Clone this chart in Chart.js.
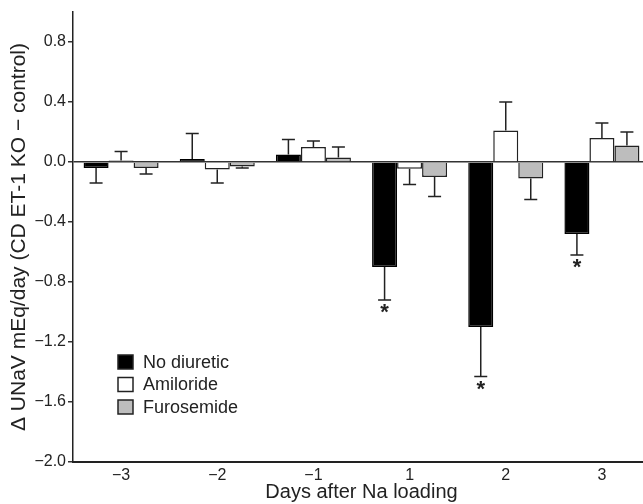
<!DOCTYPE html>
<html>
<head>
<meta charset="utf-8">
<script src="https://cdn.jsdelivr.net/npm/chart.js@4"></script>
<style>
body { margin: 0; overflow: hidden; background: #fff; }
</style>
</head>
<body>
<canvas id="chartBox" width="650" height="504"></canvas>
<script>
const days = ['\u22123', '\u22122', '\u22121', '1', '2', '3']
const noDiuretic = [-0.04, 0.02, 0.05, -0.70, -1.10, -0.48]
const noDiureticErr = [0.10, 0.17, 0.10, 0.22, 0.33, 0.14]
const amiloride = [0.01, -0.05, 0.10, -0.045, 0.21, 0.16]
const amilorideErr = [0.06, 0.09, 0.04, 0.105, 0.19, 0.10]
const furosemide = [-0.04, -0.03, 0.03, -0.10, -0.11, 0.11]
const furosemideErr = [0.04, 0.01, 0.07, 0.13, 0.14, 0.09]
const stars = [false, false, false, true, true, true]
const yTicks = [0.8, 0.4, 0, -0.4, -0.8, -1.2, -1.6, -2.0]

const ink = '#222'
Chart.defaults.font.family = '"Liberation Sans", Arial, sans-serif'
Chart.defaults.color = ink

// whiskers go away from zero only, star under the significant ones
const errorBars = {
    id: 'errorBars',
    afterDatasetsDraw(chart) {
        const ctx = chart.ctx
        const y = chart.scales.y
        ctx.save()
        ctx.strokeStyle = ink
        ctx.lineWidth = 1.5
        chart.data.datasets.forEach((ds, i) => {
            chart.getDatasetMeta(i).data.forEach((bar, j) => {
                const v = ds.data[j]
                const end = v + (v < 0 ? -1 : 1) * ds.errors[j]
                const yEnd = y.getPixelForValue(end)
                ctx.beginPath()
                ctx.moveTo(bar.x, bar.y)
                ctx.lineTo(bar.x, yEnd)
                ctx.moveTo(bar.x - 6.5, yEnd)
                ctx.lineTo(bar.x + 6.5, yEnd)
                ctx.stroke()
                if (ds.stars && ds.stars[j]) {
                    ctx.fillStyle = ink
                    ctx.font = 'bold 22px "Liberation Sans", Arial, sans-serif'
                    ctx.textAlign = 'center'
                    ctx.textBaseline = 'middle'
                    ctx.fillText('*', bar.x, yEnd + 13)
                }
            })
        })
        ctx.restore()
    }
}

const boxLegend = {
    id: 'boxLegend',
    afterDraw(chart) {
        const { ctx, chartArea } = chart
        ctx.save()
        ctx.font = '18px "Liberation Sans", Arial, sans-serif'
        ctx.textBaseline = 'middle'
        ctx.textAlign = 'left'
        chart.data.datasets.forEach((ds, i) => {
            const x = chartArea.left + 45
            const y = chartArea.bottom - 107 + i * 22.5
            ctx.fillStyle = ds.backgroundColor
            ctx.fillRect(x, y, 15, 14)
            ctx.strokeStyle = ink
            ctx.lineWidth = 1.5
            ctx.strokeRect(x, y, 15, 14)
            ctx.fillStyle = ink
            ctx.fillText(ds.label, x + 25, y + 8)
        })
        ctx.restore()
    }
}

const context = document.querySelector('#chartBox').getContext('2d')
const chart = new Chart(context, {
    type: 'bar',
    data: {
        labels: days,
        datasets: [
            { label: 'No diuretic', data: noDiuretic, errors: noDiureticErr, stars, backgroundColor: '#000', borderColor: '#000', borderWidth: 1.5 },
            { label: 'Amiloride', data: amiloride, errors: amilorideErr, backgroundColor: '#fff', borderColor: ink, borderWidth: 1.5 },
            { label: 'Furosemide', data: furosemide, errors: furosemideErr, backgroundColor: '#bdbdbd', borderColor: ink, borderWidth: 1.5 }
        ]
    },
    options: {
        responsive: false,
        animation: false,
        categoryPercentage: 0.78,
        barPercentage: 1,
        layout: { padding: { top: 12, right: 0, left: 0, bottom: 0 } },
        plugins: { legend: { display: false }, tooltip: { enabled: false } },
        scales: {
            x: {
                grid: { display: false, drawTicks: false },
                border: { color: ink, width: 2 },
                ticks: { font: { size: 16 }, color: ink, padding: 4 },
                afterFit: s => { s.height = 42 },
                title: { display: true, text: 'Days after Na loading', font: { size: 20 }, color: ink, padding: 0 }
            },
            y: {
                min: -2,
                max: 1,
                afterBuildTicks: s => { s.ticks = yTicks.map(v => ({ value: v })) },
                afterFit: s => { s.width = 73 },
                border: { color: ink, width: 1.5 },
                grid: {
                    color: c => (c.tick && c.tick.value === 0) ? '#333' : 'rgba(0,0,0,0)',
                    tickColor: '#333',
                    tickLength: 5,
                    lineWidth: 1.5
                },
                ticks: {
                    font: { size: 16 },
                    color: ink,
                    padding: 2,
                    callback: v => (v < 0 ? '\u2212' : '') + Math.abs(v).toFixed(1)
                },
                title: { display: true, text: '\u0394 UNaV mEq/day (CD ET-1 KO \u2212 control)', font: { size: 21 }, color: ink, padding: { top: 7, bottom: 0 } }
            }
        }
    },
    plugins: [errorBars, boxLegend]
})
</script>
</body>
</html>
